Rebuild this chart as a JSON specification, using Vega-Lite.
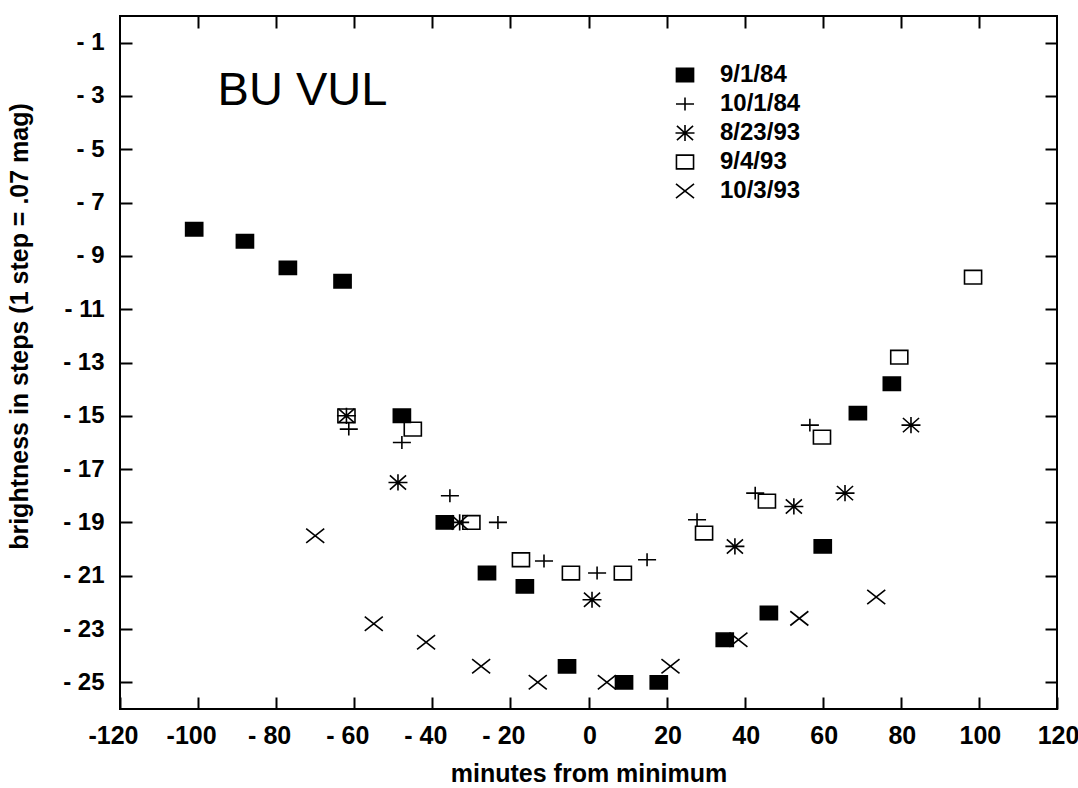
{
  "$schema": "https://vega.github.io/schema/vega-lite/v6.json",
  "width": 937,
  "height": 693,
  "autosize": {"type": "none"},
  "padding": {"left": 120, "top": 16, "right": 21, "bottom": 79},
  "background": "white",
  "config": {
    "view": {"stroke": "black", "strokeWidth": 2},
    "font": "Liberation Sans",
    "axis": {"grid": false, "domain": false, "tickColor": "black", "tickWidth": 2, "labelColor": "black", "titleColor": "black"},
    "legend": {"orient": "none", "legendX": 553, "legendY": 47, "title": null, "labelFontSize": 24, "labelFontWeight": "bold", "labelColor": "black", "symbolSize": 361, "padding": 0, "rowPadding": 5, "labelOffset": 23, "symbolStrokeWidth": 1.6}
  },
  "datasets": {
    "pts": [
      {"t": -62, "b": -15, "d": "9/4/93"},
      {"t": -45, "b": -15.5, "d": "9/4/93"},
      {"t": -30, "b": -19, "d": "9/4/93"},
      {"t": -17.3, "b": -20.4, "d": "9/4/93"},
      {"t": -4.5, "b": -20.9, "d": "9/4/93"},
      {"t": 8.8, "b": -20.9, "d": "9/4/93"},
      {"t": 29.6, "b": -19.4, "d": "9/4/93"},
      {"t": 45.7, "b": -18.2, "d": "9/4/93"},
      {"t": 59.8, "b": -15.8, "d": "9/4/93"},
      {"t": 79.6, "b": -12.8, "d": "9/4/93"},
      {"t": 98.5, "b": -9.8, "d": "9/4/93"},
      {"t": -61.4, "b": -15.5, "d": "10/1/84"},
      {"t": -47.8, "b": -16, "d": "10/1/84"},
      {"t": -35.5, "b": -18, "d": "10/1/84"},
      {"t": -23.2, "b": -19, "d": "10/1/84"},
      {"t": -11.4, "b": -20.45, "d": "10/1/84"},
      {"t": 2.2, "b": -20.9, "d": "10/1/84"},
      {"t": 15, "b": -20.4, "d": "10/1/84"},
      {"t": 27.8, "b": -18.9, "d": "10/1/84"},
      {"t": 42.7, "b": -17.9, "d": "10/1/84"},
      {"t": 56.7, "b": -15.35, "d": "10/1/84"},
      {"t": -62, "b": -15, "d": "8/23/93"},
      {"t": -48.8, "b": -17.5, "d": "8/23/93"},
      {"t": -33, "b": -19, "d": "8/23/93"},
      {"t": 0.9, "b": -21.9, "d": "8/23/93"},
      {"t": 37.5, "b": -19.9, "d": "8/23/93"},
      {"t": 52.6, "b": -18.4, "d": "8/23/93"},
      {"t": 65.7, "b": -17.9, "d": "8/23/93"},
      {"t": 82.6, "b": -15.35, "d": "8/23/93"},
      {"t": -70, "b": -19.5, "d": "10/3/93"},
      {"t": -55, "b": -22.8, "d": "10/3/93"},
      {"t": -41.6, "b": -23.5, "d": "10/3/93"},
      {"t": -27.5, "b": -24.4, "d": "10/3/93"},
      {"t": -13, "b": -25, "d": "10/3/93"},
      {"t": 4.7, "b": -25, "d": "10/3/93"},
      {"t": 21, "b": -24.4, "d": "10/3/93"},
      {"t": 38.4, "b": -23.4, "d": "10/3/93"},
      {"t": 54, "b": -22.6, "d": "10/3/93"},
      {"t": 73.7, "b": -21.8, "d": "10/3/93"},
      {"t": -101, "b": -8, "d": "9/1/84"},
      {"t": -88, "b": -8.45, "d": "9/1/84"},
      {"t": -77, "b": -9.45, "d": "9/1/84"},
      {"t": -63, "b": -9.95, "d": "9/1/84"},
      {"t": -47.8, "b": -15, "d": "9/1/84"},
      {"t": -36.8, "b": -19, "d": "9/1/84"},
      {"t": -26, "b": -20.9, "d": "9/1/84"},
      {"t": -16.3, "b": -21.4, "d": "9/1/84"},
      {"t": -5.5, "b": -24.4, "d": "9/1/84"},
      {"t": 9.1, "b": -25, "d": "9/1/84"},
      {"t": 18, "b": -25, "d": "9/1/84"},
      {"t": 34.9, "b": -23.4, "d": "9/1/84"},
      {"t": 46.2, "b": -22.4, "d": "9/1/84"},
      {"t": 60, "b": -19.9, "d": "9/1/84"},
      {"t": 69, "b": -14.9, "d": "9/1/84"},
      {"t": 77.7, "b": -13.8, "d": "9/1/84"}
    ],
    "label": [{"t": -95, "b": -3.35, "txt": "BU VUL"}]
  },
  "resolve": {"axis": {"x": "independent", "y": "independent"}},
  "layer": [
    {
      "mark": {"type": "rule", "color": "black", "strokeWidth": 1.5},
      "encoding": {
        "x": {"datum": 0, "type": "quantitative", "axis": null}
      }
    },
    {
      "data": {"name": "pts"},
      "mark": {"type": "point", "filled": true, "strokeWidth": 1.6, "size": 361, "opacity": 1},
      "encoding": {
        "x": {
          "field": "t", "type": "quantitative",
          "scale": {"domain": [-120, 120], "nice": false, "zero": false},
          "axis": {
            "title": "minutes from minimum",
            "values": [-120, -100, -80, -60, -40, -20, 0, 20, 40, 60, 80, 100, 120],
            "labelExpr": "datum.value < 0 ? (datum.value <= -100 ? '-' + abs(datum.value) : '- ' + abs(datum.value)) : datum.label",
            "tickSize": -12,
            "labelPadding": 26,
            "labelFontSize": 25,
            "labelFontWeight": "bold",
            "labelFlush": false,
            "labelOffset": {"condition": {"test": "datum.value < 0", "value": -7}, "value": 1},
            "titleFontSize": 25,
            "titleFontWeight": "bold",
            "titleY": 52,
            "titleBaseline": "top"
          }
        },
        "y": {
          "field": "b", "type": "quantitative",
          "scale": {"domain": [-26, 0], "nice": false, "zero": false},
          "axis": {
            "title": "brightness in steps (1 step = .07 mag)",
            "values": [-1, -3, -5, -7, -9, -11, -13, -15, -17, -19, -21, -23, -25],
            "labelExpr": "'- ' + abs(datum.value)",
            "tickSize": -12,
            "labelPadding": 28,
            "labelFontSize": 24,
            "labelFontWeight": "bold",
            "titleFontSize": 25,
            "titleFontWeight": "bold",
            "titleX": -88,
            "titleY": 310,
            "titleBaseline": "bottom",
            "titleAngle": -90
          }
        },
        "shape": {
          "field": "d", "type": "nominal",
          "scale": {
            "domain": ["9/1/84", "10/1/84", "8/23/93", "9/4/93", "10/3/93"],
            "range": [
              "M-0.9,-0.7H0.9V0.7H-0.9Z",
              "M-0.95,0H0.95M0,-0.68V0.68",
              "M-1,0H1M0,-0.85V0.85M-0.85,-0.75L0.85,0.75M-0.85,0.75L0.85,-0.75",
              "M-0.9,-0.72H0.9V0.72H-0.9Z",
              "M-0.95,-0.75L0.95,0.75M-0.95,0.75L0.95,-0.75"
            ]
          }
        },
        "fill": {
          "field": "d", "type": "nominal",
          "scale": {
            "domain": ["9/1/84", "10/1/84", "8/23/93", "9/4/93", "10/3/93"],
            "range": ["black", "transparent", "transparent", "transparent", "transparent"]
          }
        },
        "stroke": {
          "field": "d", "type": "nominal",
          "scale": {
            "domain": ["9/1/84", "10/1/84", "8/23/93", "9/4/93", "10/3/93"],
            "range": ["black", "black", "black", "black", "black"]
          }
        }
      }
    },
    {
      "data": {"name": "label"},
      "mark": {"type": "text", "align": "left", "baseline": "alphabetic", "fontSize": 47, "font": "Liberation Sans", "color": "black"},
      "encoding": {
        "x": {"field": "t", "type": "quantitative", "axis": {"orient": "top", "labels": false, "title": null, "tickSize": -12, "values": [-100, -80, -60, -40, -20, 0, 20, 40, 60, 80, 100]}},
        "y": {"field": "b", "type": "quantitative", "axis": {"orient": "right", "labels": false, "title": null, "tickSize": -12, "values": [-1, -3, -5, -7, -9, -11, -13, -15, -17, -19, -21, -23, -25]}},
        "text": {"field": "txt"}
      }
    }
  ]
}
